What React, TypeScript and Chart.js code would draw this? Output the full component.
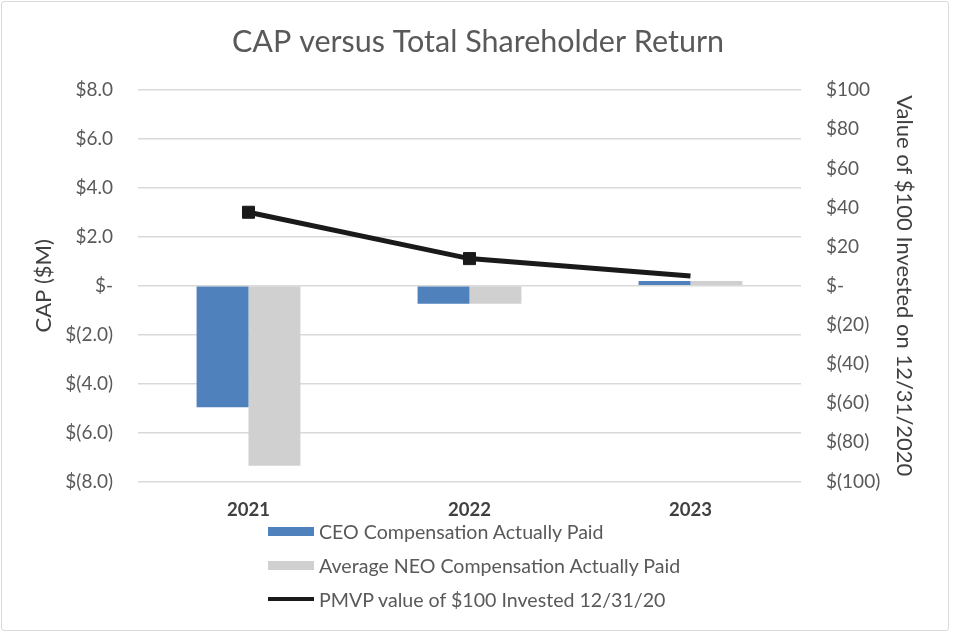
import React, { useEffect, useRef } from "react";
import { Chart, registerables } from "chart.js";

Chart.register(...registerables);

const categories = ["2021", "2022", "2023"];
const ceoCap = [-4.97, -0.73, 0.2];
const neoCap = [-7.36, -0.73, 0.2];
const tsrValue = [37.6, 13.9, 5.0];
const tsrPointRadius = [8.5, 8.5, 0];

const leftTicks = { min: -8, max: 8, step: 2 };
const rightTicks = { min: -100, max: 100, step: 20 };

const titleText = "CAP versus Total Shareholder Return";
const leftAxisTitle = "CAP ($M)";
const rightAxisTitle = "Value of $100 Invested on 12/31/2020";
const seriesLabels = [
  "CEO Compensation Actually Paid",
  "Average NEO Compensation Actually Paid",
  "PMVP value of $100 Invested 12/31/20",
];
const seriesColors = ["#4F81BD", "#D0D0D0", "#1A1A1A"];

const FONT = "Lato, 'Open Sans', sans-serif";

function fmtLeft(v: number): string {
  if (v === 0) return "$-";
  if (v < 0) return `$(${Math.abs(v).toFixed(1)})`;
  return `$${v.toFixed(1)}`;
}
function fmtRight(v: number): string {
  if (v === 0) return "$-";
  if (v < 0) return `$(${Math.abs(v).toFixed(0)})`;
  return `$${v.toFixed(0)}`;
}

export default function App() {
  const canvasRef = useRef<HTMLCanvasElement | null>(null);

  useEffect(() => {
    const canvas = canvasRef.current;
    if (!canvas) return;
    const chart = new Chart(canvas, {
      type: "bar",
      data: {
        labels: categories,
        datasets: [
          {
            type: "line" as const,
            label: seriesLabels[2],
            data: tsrValue,
            yAxisID: "y1",
            borderColor: seriesColors[2],
            backgroundColor: seriesColors[2],
            borderWidth: 5,
            pointStyle: "rect",
            pointRadius: tsrPointRadius,
            pointBackgroundColor: seriesColors[2],
            pointBorderColor: seriesColors[2],
            pointBorderWidth: 1,
            tension: 0,
            order: 0,
          } as any,
          {
            type: "bar" as const,
            label: seriesLabels[0],
            data: ceoCap,
            yAxisID: "y",
            backgroundColor: seriesColors[0],
            barPercentage: 1,
            categoryPercentage: 0.47,
            order: 1,
          },
          {
            type: "bar" as const,
            label: seriesLabels[1],
            data: neoCap,
            yAxisID: "y",
            backgroundColor: seriesColors[1],
            barPercentage: 1,
            categoryPercentage: 0.47,
            order: 2,
          },
        ],
      },
      options: {
        animation: false,
        responsive: true,
        maintainAspectRatio: false,
        layout: { padding: { top: 0, left: 0, right: 0, bottom: 118.6 } },
        plugins: {
          legend: { display: false },
          tooltip: { enabled: false },
          title: {
            display: true,
            text: titleText,
            color: "#595959",
            font: { family: FONT, size: 30.5, weight: "normal", lineHeight: 1.2 },
            padding: { top: 23.7, bottom: 29.9 },
          },
        },
        scales: {
          x: {
            grid: { display: false, drawTicks: false },
            border: { display: false },
            ticks: {
              color: "#404040",
              padding: 18,
              font: { family: FONT, size: 18.5, weight: "bold" },
            },
            afterFit: (s: any) => {
              s.height = 40;
            },
          },
          y: {
            position: "left",
            min: leftTicks.min,
            max: leftTicks.max,
            grid: { color: "#D9D9D9", lineWidth: 1.5, drawTicks: false },
            border: { display: false },
            ticks: {
              stepSize: leftTicks.step,
              color: "#595959",
              padding: 25,
              font: { family: FONT, size: 19 },
              callback: (v: any) => fmtLeft(Number(v)),
            },
            title: {
              display: true,
              text: leftAxisTitle,
              color: "#404040",
              font: { family: FONT, size: 22, lineHeight: 1.2 },
              padding: { top: 30.8, bottom: 0 },
            },
            afterFit: (s: any) => {
              s.width = 138;
            },
          },
          y1: {
            position: "right",
            min: rightTicks.min,
            max: rightTicks.max,
            grid: { display: false, drawTicks: false },
            border: { display: false },
            ticks: {
              stepSize: rightTicks.step,
              color: "#595959",
              padding: 25,
              font: { family: FONT, size: 19 },
              callback: (v: any) => fmtRight(Number(v)),
            },
            title: {
              display: true,
              text: rightAxisTitle,
              color: "#404040",
              font: { family: FONT, size: 22, lineHeight: 1.2 },
              padding: { top: 38.8, bottom: 0 },
            },
            afterFit: (s: any) => {
              s.width = 155;
            },
          },
        },
      } as any,
    });
    return () => chart.destroy();
  }, []);

  const legendRow = (i: number, top: number) => (
    <div
      key={i}
      style={{
        position: "absolute",
        left: 268,
        top: top - 13,
        height: 26,
        display: "flex",
        alignItems: "center",
        fontFamily: FONT,
        fontSize: 19.6,
        color: "#595959",
        whiteSpace: "nowrap",
      }}
    >
      <span
        style={{
          display: "inline-block",
          width: 46,
          height: i === 2 ? 4 : 9,
          background: seriesColors[i],
          marginRight: 5,
        }}
      />
      {seriesLabels[i]}
    </div>
  );

  return (
    <div
      style={{
        position: "absolute",
        left: 0,
        top: 0,
        width: 956,
        height: 640,
        background: "#fff",
        overflow: "hidden",
      }}
    >
      <div style={{ position: "absolute", left: 0, top: 0, width: 956, height: 640 }}>
        <canvas ref={canvasRef} />
      </div>
      {legendRow(0, 531)}
      {legendRow(1, 565)}
      {legendRow(2, 599)}
      <div
        style={{
          position: "absolute",
          left: 1,
          top: 1,
          width: 948,
          height: 630,
          border: "1px solid #D9D9D9",
          borderRadius: 3,
          boxSizing: "border-box",
          pointerEvents: "none",
        }}
      />
    </div>
  );
}
